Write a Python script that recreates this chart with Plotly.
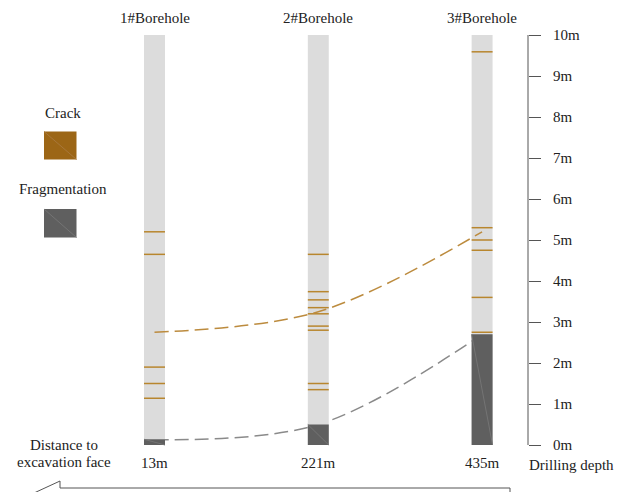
import plotly.graph_objects as go

# Borehole inspection data
boreholes = ["1#Borehole", "2#Borehole", "3#Borehole"]
distances_m = [13, 221, 435]          # distance to excavation face
hole_depth = 10                        # drilled length of each hole (m)
crack_depths = [
    [5.2, 4.65, 1.9, 1.5, 1.14],
    [4.65, 3.74, 3.54, 3.35, 3.2, 2.9, 2.8, 1.5, 1.35],
    [9.59, 5.3, 5.0, 4.75, 3.6, 2.75],
]
frag_depths = [0.14, 0.5, 2.7]         # fragmented zone from hole bottom up (m)
crack_trend = [2.75, 3.25, 5.2]        # extent of the cracked zone
frag_trend = [0.13, 0.5, 2.7]          # extent of the fragmented zone
depth_ticks = list(range(0, 11))

FONT = "Liberation Serif"
FS = 15
TXT = "#222222"
W, H = 624, 492
CENTER0, STEP = 154.5, 163.8           # pixel centre of first hole, spacing
HALF = 0.064                           # half column width in x units
Y_PX0, PX_PER_M = 445, 41
AXIS_X = 528 / W
DASH = "14px,6px"

xs = list(range(len(boreholes)))
fig = go.Figure()

# fragmentation trend (runs underneath the columns)
fig.add_trace(go.Scatter(x=xs, y=frag_trend, mode="lines",
                         line=dict(color="#8A8A8A", width=1.5, dash=DASH, shape="spline"),
                         hoverinfo="skip"))

# borehole columns
for i in xs:
    fig.add_trace(go.Scatter(x=[i - HALF, i + HALF, i + HALF, i - HALF, i - HALF],
                             y=[0, 0, hole_depth, hole_depth, 0],
                             mode="lines", fill="toself", fillcolor="#DCDCDC",
                             line=dict(width=0), hoverinfo="skip"))

# fragmented zones
for i, f in zip(xs, frag_depths):
    fig.add_trace(go.Scatter(x=[i - HALF, i + HALF, i + HALF, i - HALF, i - HALF],
                             y=[0, 0, f, f, 0],
                             mode="lines", fill="toself", fillcolor="#5F5F5F",
                             line=dict(width=0), hoverinfo="skip"))
    fig.add_trace(go.Scatter(x=[i - HALF, i + HALF], y=[f, 0], mode="lines",
                             line=dict(color="#747474", width=1), hoverinfo="skip"))

# crack lines
cx, cy = [], []
for i, depths in zip(xs, crack_depths):
    for d in depths:
        cx += [i - HALF, i + HALF, None]
        cy += [d, d, None]
fig.add_trace(go.Scatter(x=cx, y=cy, mode="lines",
                         line=dict(color="#B8862E", width=1.5), hoverinfo="skip"))

# crack trend
fig.add_trace(go.Scatter(x=xs, y=crack_trend, mode="lines",
                         line=dict(color="#BC8B3E", width=1.5, dash=DASH, shape="spline"),
                         hoverinfo="skip"))


def px(x):
    return x / W


def py(y):
    return 1 - y / H


annotations = []
for i, name, d in zip(xs, boreholes, distances_m):
    annotations.append(dict(x=i, xref="x", y=py(18), yref="paper", text=name,
                            showarrow=False, xanchor="center", yanchor="middle",
                            font=dict(family=FONT, size=FS, color=TXT)))
    annotations.append(dict(x=i, xref="x", y=py(463), yref="paper", text=f"{d}m",
                            showarrow=False, xanchor="center", yanchor="middle",
                            font=dict(family=FONT, size=FS, color=TXT)))

for text, x, y in [("Distance to", 64, 445), ("excavation face", 64, 462),
                   ("Drilling depth", 571, 465), ("Crack", 63, 113),
                   ("Fragmentation", 63, 189)]:
    annotations.append(dict(x=px(x), xref="paper", y=py(y), yref="paper", text=text,
                            showarrow=False, xanchor="center", yanchor="middle",
                            font=dict(family=FONT, size=FS, color=TXT)))

shapes = [
    # depth axis line
    dict(type="line", xref="paper", yref="y", x0=AXIS_X, x1=AXIS_X, y0=0, y1=hole_depth,
         line=dict(color="#555555", width=1)),
    # legend swatches
    dict(type="rect", xref="paper", yref="paper", x0=px(44), x1=px(76.5),
         y0=py(159.5), y1=py(131.5), fillcolor="#9C6616", line=dict(width=0)),
    dict(type="line", xref="paper", yref="paper", x0=px(44), x1=px(76.5),
         y0=py(131.5), y1=py(159.5), line=dict(color="#A8773A", width=1)),
    dict(type="rect", xref="paper", yref="paper", x0=px(44), x1=px(76.5),
         y0=py(237.5), y1=py(209), fillcolor="#5F5F5F", line=dict(width=0)),
    dict(type="line", xref="paper", yref="paper", x0=px(44), x1=px(76.5),
         y0=py(209), y1=py(237.5), line=dict(color="#747474", width=1)),
    # direction arrow along the bottom
    dict(type="path", xref="paper", yref="paper",
         path=(f"M {px(34)},{py(493)} L {px(60)},{py(481)} L {px(60)},{py(488)} "
               f"L {px(510)},{py(488)} L {px(510)},{py(493)}"),
         line=dict(color="#555555", width=1)),
]

fig.update_layout(
    width=W, height=H,
    margin=dict(l=0, r=0, t=0, b=0),
    paper_bgcolor="white", plot_bgcolor="white",
    showlegend=False,
    xaxis=dict(range=[-CENTER0 / STEP, (W - CENTER0) / STEP], visible=False,
               fixedrange=True),
    yaxis=dict(range=[-(H - Y_PX0) / PX_PER_M, hole_depth + (Y_PX0 - 10 * PX_PER_M) / PX_PER_M],
               anchor="free", position=AXIS_X, side="right",
               showgrid=False, zeroline=False, showline=False,
               ticks="outside", ticklen=12, tickwidth=1, tickcolor="#555555",
               tickvals=depth_ticks, ticktext=[f"{v}m" for v in depth_ticks],
               tickfont=dict(family=FONT, size=FS, color=TXT),
               ticklabelstandoff=9, fixedrange=True),
    annotations=annotations,
    shapes=shapes,
)

fig.write_html("out.html")
